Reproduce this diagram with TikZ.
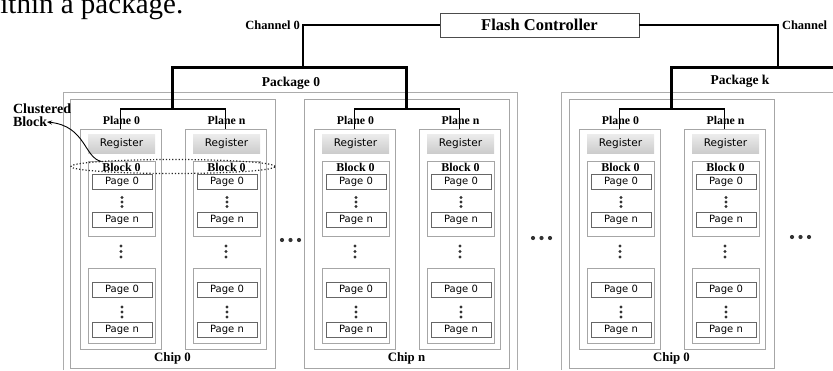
\documentclass[tikz,border=0pt]{standalone}
\usepackage{fontspec}
\setmainfont{Liberation Serif}
\newfontfamily\vsans{DejaVu Sans}
\usetikzlibrary{arrows.meta,shapes.geometric}

\tikzset{
  every node/.style={inner sep=0pt, outer sep=0pt},
  grayline/.style={draw=gray!70, line width=0.7pt},
  chipbox/.style={grayline, minimum width=205pt, minimum height=269pt},
  planebox/.style={grayline, minimum width=81pt, minimum height=220pt},
  blockbox/.style={grayline, minimum width=67pt, minimum height=75pt},
  regbox/.style={top color=gray!15, bottom color=gray!40, minimum width=67pt, minimum height=19pt, font=\vsans\fontsize{10.5}{12}\selectfont},
  pagebox/.style={draw=gray!80!black, line width=0.6pt, fill=white, minimum width=60pt, minimum height=15pt, font=\vsans\fontsize{10}{12}\selectfont},
  planelbl/.style={font=\bfseries\fontsize{11.8}{13}\selectfont},
  blocklbl/.style={font=\bfseries\fontsize{12}{13}\selectfont},
  chiplbl/.style={font=\bfseries\fontsize{12.8}{14}\selectfont},
  pkglbl/.style={font=\bfseries\fontsize{13.5}{15}\selectfont},
  chanlbl/.style={font=\bfseries\fontsize{12.5}{14}\selectfont},
  fcbox/.style={draw=gray!60!black, line width=0.7pt, fill=white, minimum width=199pt, minimum height=24pt, font=\bfseries\fontsize{16.5}{18}\selectfont},
  chanwire/.style={draw=black, line width=1.4pt},
  pkgwire/.style={draw=black, line width=3pt},
  planewire/.style={draw=black, line width=1.2pt},
  pkgframe/.style={draw=gray!65, line width=0.8pt},
  dotfill/.style={fill=black!80},
  clustermark/.style={draw=black!85, dotted, line width=1.2pt, ellipse},
}

\newcommand\colofdots[3]{%
  \fill[dotfill] ({#1},{#2}) circle (1.7pt);
  \fill[dotfill] ({#1},{#2+#3}) circle (1.7pt);
  \fill[dotfill] ({#1},{#2+2*#3}) circle (1.7pt);}

\newcommand\rowofdots[2]{%
  \fill[dotfill] ({#1},{#2}) circle (2.1pt);
  \fill[dotfill] ({#1+8.5},{#2}) circle (2.1pt);
  \fill[dotfill] ({#1+17},{#2}) circle (2.1pt);}

\newcommand\mkplane[3]{%
  \node[planebox] (#2) at ({#1+40.5},239) {};
  \node[planelbl] (#2-lbl) at ({#1+41.5},120) {#3};
  \node[regbox] (#2-reg) at ({#1+41.5},143.5) {Register};
  \node[blockbox] (#2-b1) at ({#1+41.5},198.5) {};
  \node[blocklbl] (#2-b1lbl) at ({#1+41.5},167.5) {Block 0};
  \node[pagebox] (#2-p1) at ({#1+42},182) {Page 0};
  \colofdots{#1+42}{197.5}{4.5}
  \node[pagebox] (#2-p2) at ({#1+42},220) {Page n};
  \colofdots{#1+41}{246}{5.5}
  \node[blockbox] (#2-b2) at ({#1+41.5},306) {};
  \node[pagebox] (#2-p3) at ({#1+42},290) {Page 0};
  \colofdots{#1+42}{307}{5}
  \node[pagebox] (#2-p4) at ({#1+42},329.5) {Page n};
}

\newcommand\mkchip[3]{%
  \node[chipbox] (#2) at ({#1+102.5},233.5) {};
  \node[chiplbl] (#2-lbl) at ({#1+102.5},358) {#3};
  \mkplane{#1+10}{#2A}{Plane 0}
  \mkplane{#1+115}{#2B}{Plane n}
  \coordinate (#2-bus) at ({#1+102.5},109);
  \draw[planewire] (#2A.north) |- (#2-bus) -| (#2B.north);
}

\begin{document}
\begin{tikzpicture}[x=1pt,y=-1pt]
\useasboundingbox (0,0) rectangle (833,370);
\begin{scope}
\clip (0,0) rectangle (833,370);
\node[anchor=base west, font=\fontsize{29}{30}\selectfont] (caption) at (-20.5,13.5) {within a package.};
\end{scope}

% packages
\draw[pkgframe] (63,370) -- (63,92) -- (517,92) -- (517,370);
\draw[pkgframe] (561,370) -- (561,92) -- (833,92);
\node[pkglbl] (pkg0) at (291,83) {Package 0};
\node[pkglbl] (pkgk) at (740,81) {Package k};

% chips
\mkchip{70}{c0}{Chip 0}
\mkchip{304}{cn}{Chip n}
\mkchip{569}{ck}{Chip 0}

% ellipsis between chips
\rowofdots{282}{240}
\rowofdots{533}{238}
\rowofdots{792}{237}

% controller and channels
\node[fcbox] (fc) at (539.5,25) {Flash Controller};
\node[chanlbl, anchor=east] (ch0) at (300,25) {Channel 0};
\node[chanlbl, anchor=west] (chk) at (782,25) {Channel};
\coordinate (hub0) at (303,67);
\coordinate (hubk) at (778,67);
\coordinate (rimk) at (833,67);
\draw[chanwire] (fc.west) -| (hub0);
\draw[chanwire] (fc.east) -| (hubk);
\draw[pkgwire] (c0-bus) |- (hub0) -| (cn-bus);
\draw[pkgwire] (ck-bus) |- (rimk);

% clustered block
\node[font=\bfseries\fontsize{14}{13}\selectfont, align=left, anchor=west] (clus) at (13,115.5) {Clustered\\Block};
\coordinate (cbtip) at (47,122);
\node[clustermark, minimum width=204pt, minimum height=14pt] (clu) at (173,166.5) {};
\draw[-{Stealth[length=5pt,width=4pt]}, line width=0.9pt] (clu.176) .. controls (84,158) and (86,126) .. (cbtip);
\end{tikzpicture}
\end{document}
